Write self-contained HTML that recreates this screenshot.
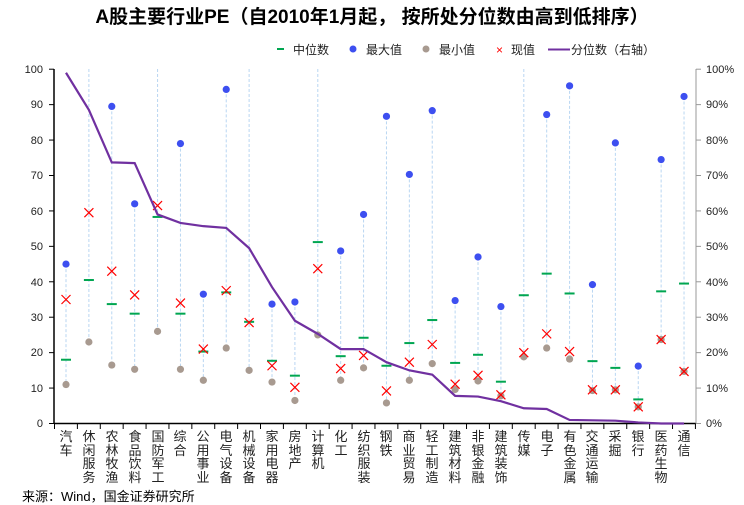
<!DOCTYPE html>
<html><head><meta charset="utf-8"><style>
body{margin:0;width:744px;height:491px;overflow:hidden;background:#fff;font-family:"Liberation Sans","Noto Sans CJK SC",sans-serif;position:relative}
.t{position:absolute;left:0;width:744px;top:2px;text-align:center;font-size:19px;font-weight:bold;color:#000}
.lab{position:absolute;top:430px;width:16px;margin-left:-8px;font-size:13px;line-height:13.7px;text-align:center;color:#222}
.src{position:absolute;left:22px;top:486px;font-size:13px;color:#000}
</style></head><body>
<div class="t">A股主要行业PE（自2010年1月起， 按所处分位数由高到低排序）</div>
<svg width="744" height="491" style="position:absolute;left:0;top:0" id="s" font-family="Liberation Sans, Noto Sans CJK SC, sans-serif">
<g font-size="12" fill="#222">
<rect x="277" y="48" width="7" height="2" fill="#00a651"/><text x="293" y="54">中位数</text>
<circle cx="353" cy="49" r="3.5" fill="#3d4ff0"/><text x="366" y="54">最大值</text>
<circle cx="426" cy="49" r="3.5" fill="#a89a90"/><text x="439" y="54">最小值</text>
<text x="496" y="54" fill="#f00" font-size="12">×</text><text x="511" y="54">现值</text>
<rect x="548" y="48.5" width="22" height="2" fill="#7030a0"/><text x="571" y="54">分位数（右轴）</text>
</g>
<g font-size="11" fill="#222" text-anchor="end">
<text x="43" y="73">100</text><text x="43" y="108">90</text><text x="43" y="144">80</text><text x="43" y="179">70</text><text x="43" y="215">60</text><text x="43" y="250">50</text><text x="43" y="286">40</text><text x="43" y="321">30</text><text x="43" y="356">20</text><text x="43" y="392">10</text><text x="43" y="427">0</text>
</g>
<g font-size="11" fill="#222">
<text x="706" y="73">100%</text><text x="706" y="108">90%</text><text x="706" y="144">80%</text><text x="706" y="179">70%</text><text x="706" y="215">60%</text><text x="706" y="250">50%</text><text x="706" y="286">40%</text><text x="706" y="321">30%</text><text x="706" y="356">20%</text><text x="706" y="392">10%</text><text x="706" y="427">0%</text>
</g>
<g id="g"></g>
</svg>
<div class="lab" style="left:66px">汽车</div>
<div class="lab" style="left:89px">休闲服务</div>
<div class="lab" style="left:112px">农林牧渔</div>
<div class="lab" style="left:135px">食品饮料</div>
<div class="lab" style="left:158px">国防军工</div>
<div class="lab" style="left:180px">综合</div>
<div class="lab" style="left:203px">公用事业</div>
<div class="lab" style="left:226px">电气设备</div>
<div class="lab" style="left:249px">机械设备</div>
<div class="lab" style="left:272px">家用电器</div>
<div class="lab" style="left:295px">房地产</div>
<div class="lab" style="left:318px">计算机</div>
<div class="lab" style="left:341px">化工</div>
<div class="lab" style="left:364px">纺织服装</div>
<div class="lab" style="left:386px">钢铁</div>
<div class="lab" style="left:409px">商业贸易</div>
<div class="lab" style="left:432px">轻工制造</div>
<div class="lab" style="left:455px">建筑材料</div>
<div class="lab" style="left:478px">非银金融</div>
<div class="lab" style="left:501px">建筑装饰</div>
<div class="lab" style="left:524px">传媒</div>
<div class="lab" style="left:547px">电子</div>
<div class="lab" style="left:570px">有色金属</div>
<div class="lab" style="left:592px">交通运输</div>
<div class="lab" style="left:615px">采掘</div>
<div class="lab" style="left:638px">银行</div>
<div class="lab" style="left:661px">医药生物</div>
<div class="lab" style="left:684px">通信</div>
<div class="src">来源：Wind，国金证券研究所</div>
<script>
var D=[[45,18,11,35,99],[999,40.5,23,59.5,88.5],[89.5,33.7,16.5,43,73.7],[62,31,15.3,36.3,73.5],[999,58.3,26,61.5,59],[79,31,15.3,34,56.6],[36.5,20.3,12.2,21,55.7],[94.3,37,21.3,37.5,55.2],[999,28.7,15,28.5,49.5],[33.7,17.7,11.7,16.3,38.5],[34.3,13.5,6.5,10.2,29],[999,51.2,25,43.7,25.3],[48.7,19,12.2,15.5,21],[59,24.2,15.7,19.2,21],[86.7,16.3,5.8,9.2,17.3],[70.3,22.7,12.2,17.3,15],[88.3,29.2,16.9,22.3,13.8],[34.7,17.1,9.6,11.1,7.8],[47,19.4,12,13.6,7.6],[33,11.8,7.8,8.1,6.3],[999,36.2,18.8,20,4.3],[87.2,42.3,21.3,25.3,4.1],[95.3,36.7,18.2,20.3,1],[39.2,17.6,9.3,9.5,0.9],[79.2,15.7,9.5,9.5,0.8],[16.2,6.8,4.7,4.7,0.3],[74.5,37.3,23.7,23.7,0],[92.3,39.5,14.7,14.7,0]];
function Y(v){return 423.5-v*3.543}
var h='',pts=[];
h+='<line x1="54" y1="69" x2="54" y2="423.5" stroke="#000" stroke-width="1.5"/><line x1="54" y1="423.5" x2="696" y2="423.5" stroke="#000" stroke-width="1.5"/><line x1="696" y1="69" x2="696" y2="423.5" stroke="#999"/>';
for(var i=0;i<=10;i++){var y=Y(i*10);h+='<line x1="49" y1="'+y+'" x2="54" y2="'+y+'" stroke="#000"/><line x1="696" y1="'+y+'" x2="701" y2="'+y+'" stroke="#999"/>';}
for(var i=0;i<=28;i++){var x=54.5+i*22.89;h+='<line x1="'+x+'" y1="423.5" x2="'+x+'" y2="429" stroke="#000"/>';}
D.forEach(function(d,i){var x=66+i*22.89;var top=d[0]>100?69:Y(d[0]);
h+='<line x1="'+x+'" y1="'+top+'" x2="'+x+'" y2="'+Y(d[2])+'" stroke="#b9d6f2" stroke-dasharray="3,2"/>';
if(d[0]<=100)h+='<circle cx="'+x+'" cy="'+Y(d[0])+'" r="3.6" fill="#3d4ff0"/>';
h+='<circle cx="'+x+'" cy="'+Y(d[2])+'" r="3.6" fill="#a89a90"/>';
h+='<rect x="'+(x-5)+'" y="'+(Y(d[1])-1)+'" width="10" height="2" fill="#00a651"/>';
var c=Y(d[3]);h+='<path d="M'+(x-4.5)+' '+(c-4.5)+'L'+(x+4.5)+' '+(c+4.5)+'M'+(x+4.5)+' '+(c-4.5)+'L'+(x-4.5)+' '+(c+4.5)+'" stroke="#f00" stroke-width="1.2"/>';
pts.push(x+','+Y(d[4]));});
h+='<polyline points="'+pts.join(' ')+'" fill="none" stroke="#7030a0" stroke-width="2.2"/>';
document.getElementById('g').innerHTML=h;
</script>
</body></html>
